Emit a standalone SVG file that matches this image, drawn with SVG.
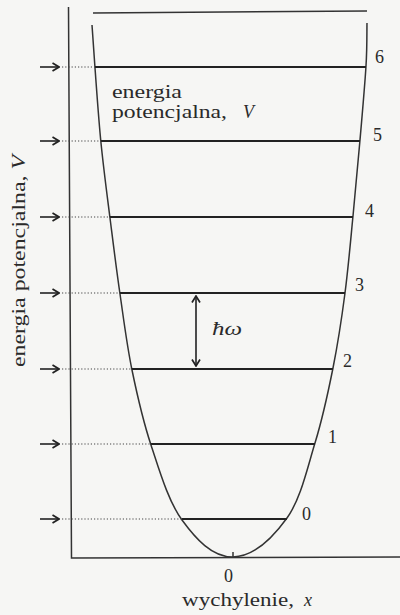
<svg xmlns="http://www.w3.org/2000/svg" width="400" height="615" viewBox="0 0 400 615">
<defs>
<marker id="chev" viewBox="0 0 10 10" refX="9" refY="5" markerWidth="10" markerHeight="10" markerUnits="userSpaceOnUse" orient="auto-start-reverse">
<path d="M2.5,1 L9,5 L2.5,9" fill="none" stroke="#222" stroke-width="1.7"/>
</marker>
</defs>
<style>
.ax{stroke:#333;stroke-width:1.5;fill:none}
.lev{stroke:#222;stroke-width:2;fill:none}
.dot{stroke:#444;stroke-width:1.2;stroke-dasharray:1.2 2;fill:none}
.arr{stroke:#222;stroke-width:1.6;fill:none;marker-end:url(#chev)}
.t{font-family:"Liberation Serif","Times New Roman",serif;font-size:18px;fill:#2a2a2a}
.i{font-style:italic}
</style>
<rect width="400" height="615" fill="#f6f6f4"/>
<g id="axes">
<path class="ax" d="M68.5,7 L71.5,558 L400,557"/>
<path class="ax" d="M93,13 L367,11"/>
<path class="ax" d="M233,552 V558"/>
</g>
<g id="curve">
<path class="ax" stroke-width="1.8" d="M92,25 C92.5,32.2 93.5,48.3 95,68 C96.5,87.7 98.5,118 101,143 C103.5,168 106.8,192.8 110,218 C113.2,243.2 116.3,268.7 120,294 C123.7,319.3 126.8,344.8 132,370 C137.2,395.2 142.7,420 151,445 C159.3,470 168.3,501.3 182,520 C195.7,538.7 212,557.3 233,557 C254,556.7 273.3,537 287,518 C300.7,499 307.3,468 315,443 C322.7,418 328,393 333,368 C338,343 341.7,318.3 345,293 C348.3,267.7 350.5,241.5 353,216 C355.5,190.5 357.8,165 360,140 C362.2,115 364.8,85.5 366,66 C367.2,46.5 366.8,30.2 367,23"/>
</g>
<g id="levels">
<path class="lev" d="M95,67 H366 M101,141 H360 M110,217 H353 M120,293 H345 M132,369 H333 M151,444 H315 M182,519 H287"/>
</g>
<g id="connectors">
<path class="dot" d="M62,67 H95 M62,141 H101 M62,217 H110 M62,293 H120 M62,369 H132 M62,444 H151 M62,519 H182"/>
<path class="arr" d="M40,67 H59"/>
<path class="arr" d="M40,141 H59"/>
<path class="arr" d="M40,217 H59"/>
<path class="arr" d="M40,293 H59"/>
<path class="arr" d="M40,369 H59"/>
<path class="arr" d="M40,444 H59"/>
<path class="arr" d="M40,519 H59"/>
<path d="M196,296 V366" stroke="#222" stroke-width="1.6" fill="none" marker-start="url(#chev)" marker-end="url(#chev)"/>
</g>
<g id="labels">
<text class="t" x="375" y="63">6</text>
<text class="t" x="373" y="141">5</text>
<text class="t" x="365" y="217">4</text>
<text class="t" x="355" y="291">3</text>
<text class="t" x="343" y="367">2</text>
<text class="t" x="328" y="443">1</text>
<text class="t" x="302" y="520">0</text>
<text class="t" x="224" y="582">0</text>
<text class="t" x="182" y="606" textLength="112" lengthAdjust="spacingAndGlyphs">wychylenie,</text>
<text class="t i" x="304" y="606">x</text>
<text class="t" x="112" y="98" textLength="70" lengthAdjust="spacingAndGlyphs">energia</text>
<text class="t" x="112" y="118" textLength="115" lengthAdjust="spacingAndGlyphs">potencjalna,</text>
<text class="t i" x="243" y="118">V</text>
<text class="t i" x="212" y="335" font-size="19" textLength="30" lengthAdjust="spacingAndGlyphs">ħω</text>
<text class="t" transform="translate(25,367) rotate(-90)" textLength="212" lengthAdjust="spacingAndGlyphs" x="0" y="0">energia  potencjalna,  <tspan class="i">V</tspan></text>
</g>
</svg>
